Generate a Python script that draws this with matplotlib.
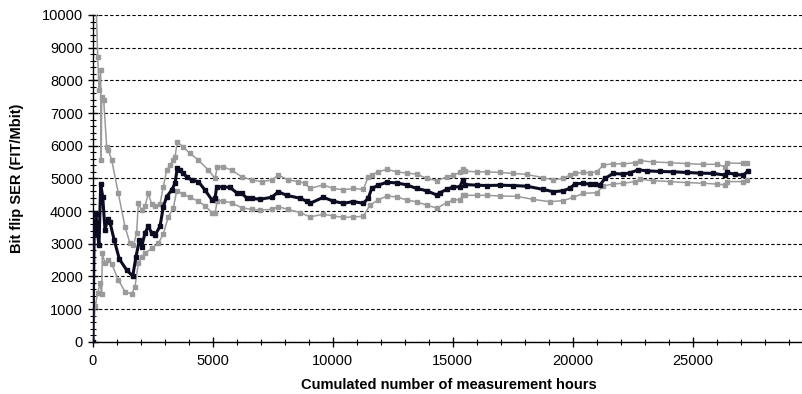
import matplotlib
matplotlib.use("Agg")
import matplotlib.pyplot as plt
from matplotlib.ticker import MultipleLocator

# cumulated hours vs bit flip SER (FIT/Mbit)
hours_mid = [10, 60, 140, 200, 263, 333, 417, 513, 620, 720, 900, 1110, 1417, 1667, 1804,
             1944, 2040, 2180, 2318, 2458, 2596, 2804, 2943, 3083, 3290, 3430, 3527, 3638,
             3777, 3917, 4125, 4402, 4680, 4958, 5096, 5166, 5443, 5720, 6000, 6210, 6417,
             6625, 6970, 7460, 7736, 8083, 8640, 8917, 9055, 9610, 10026, 10443, 10860,
             11276, 11485, 11625, 11900, 12250, 12668, 13085, 13500, 13918, 14335, 14472,
             14750, 15027, 15305, 15418, 15514, 16001, 16418, 16972, 17526, 18085, 18776,
             19193, 19610, 19890, 20098, 20443, 20722, 20930, 21140, 21347, 21694, 22110,
             22389, 22735, 23084, 23638, 24193, 24752, 25308, 25862, 26348, 26418, 26765,
             27110, 27318]
ser_mid = [0, 3300, 3900, 3300, 2960, 4820, 4440, 3420, 3750, 3650, 3100, 2530, 2190, 2010, 2600,
           3110, 2900, 3330, 3530, 3330, 3260, 3530, 4130, 4440, 4640, 4850, 5330, 5250,
           5150, 5050, 4950, 4900, 4640, 4350, 4390, 4740, 4740, 4720, 4560, 4540, 4400,
           4390, 4360, 4420, 4590, 4480, 4390, 4300, 4235, 4420, 4300, 4235, 4290,
           4235, 4400, 4690, 4790, 4880, 4860, 4800, 4690, 4620, 4490, 4560,
           4660, 4740, 4740, 4950, 4810, 4790, 4780, 4790, 4780, 4760, 4660,
           4590, 4620, 4700, 4830, 4850, 4820, 4830, 4800, 5000, 5150, 5130,
           5170, 5260, 5230, 5210, 5200, 5180, 5160, 5150, 5100, 5180, 5120,
           5100, 5230]

hours_up = [60, 137, 208, 263, 333, 355, 375, 458, 583, 650, 792, 1068, 1346, 1555, 1700,
            1832, 1900, 2040, 2180, 2320, 2458, 2600, 2800, 2943, 3083, 3220, 3360, 3430,
            3527, 3777, 4055, 4402, 4820, 5096, 5193, 5443, 5790, 6210, 6625, 7042, 7459,
            7736, 8152, 8568, 8846, 9055, 9610, 10026, 10443, 10860, 11276, 11485, 11625,
            11900, 12250, 12668, 13085, 13500, 13918, 14335, 14750, 15027, 15305, 15418,
            15514, 16001, 16418, 16972, 17526, 18085, 18776, 19193, 19610, 19890, 20098,
            20443, 20722, 21000, 21277, 21694, 22110, 22597, 22806, 23360, 24055, 24752,
            25443, 26000, 26348, 26418, 27110, 27277]
ser_up = [10500, 10500, 8720, 7700, 8310, 5560, 7500, 7400, 5960, 5860, 5560, 4540, 3520, 3010, 2960,
          3330, 4235, 4030, 4150, 4540, 4200, 4150, 4200, 4740, 5250, 5400, 5560, 5660,
          6120, 5950, 5765, 5560, 5254, 5000, 5355, 5350, 5250, 5050, 4950, 4900, 4950,
          5100, 4950, 4900, 4850, 4690, 4800, 4690, 4650, 4690, 4660, 5050, 5100,
          5200, 5275, 5200, 5160, 5130, 5000, 4930, 5040, 5100, 5180, 5275,
          5220, 5200, 5200, 5180, 5150, 5120, 5020, 4950, 5000, 5100, 5150,
          5180, 5170, 5200, 5405, 5450, 5440, 5480, 5540, 5500, 5480, 5450,
          5430, 5430, 5355, 5470, 5460, 5480]

hours_lo = [20, 100, 208, 305, 375, 400, 513, 650, 792, 1068, 1346, 1625, 1763, 1900, 2040,
            2180, 2458, 2735, 2943, 3152, 3360, 3500, 3777, 4055, 4402, 4700, 4958, 5096,
            5193, 5443, 5790, 6210, 6625, 6970, 7460, 7736, 8152, 8640, 9055, 9610, 10026,
            10443, 10860, 11276, 11555, 11900, 12250, 12668, 13085, 13500, 13918, 14335,
            14750, 15027, 15305, 15418, 15514, 16001, 16418, 16972, 17667, 18360, 19055,
            19610, 20027, 20443, 21000, 21277, 21694, 22110, 22597, 22806, 23360, 24055,
            24752, 25443, 26000, 26348, 26418, 27110, 27277]
ser_lo = [0, 1100, 1480, 1790, 1450, 2700, 2400, 2500, 2380, 1890, 1530, 1460, 1680, 2400, 2600,
          2700, 2860, 3010, 3300, 3825, 4090, 4620, 4520, 4420, 4300, 4150, 3950, 3940,
          4320, 4300, 4250, 4100, 4050, 4030, 4050, 4130, 4050, 3950, 3820, 3900, 3850,
          3805, 3820, 3840, 4180, 4340, 4460, 4430, 4340, 4280, 4180, 4090,
          4250, 4340, 4350, 4480, 4480, 4480, 4480, 4460, 4450, 4355, 4285,
          4320, 4420, 4540, 4560, 4765, 4830, 4850, 4900, 4970, 4930, 4900,
          4870, 4850, 4825, 4800, 4900, 4900, 4940]

plt.rcParams['font.family'] = ['Liberation Sans', 'DejaVu Sans']

fig = plt.figure(figsize=(8.03, 3.94), dpi=100)
# plot area runs off the right edge of the picture, like the reference
ax = fig.add_axes([92.7 / 803, 52.3 / 394, 710.3 / 803, 326.7 / 394])

gray = '#9a9a9a'
ax.plot(hours_up, ser_up, color=gray, lw=1.1, marker='s', ms=2.8, mec=gray, mfc=gray, zorder=3)
ax.plot(hours_lo, ser_lo, color=gray, lw=1.1, marker='s', ms=2.8, mec=gray, mfc=gray, zorder=3)
ax.plot(hours_mid, ser_mid, color='#0b0b22', lw=2.2, marker='s', ms=3.0, zorder=4)

ax.set_xlim(0, 710.3 / 120 * 5000)
ax.set_ylim(0, 10000)
ax.xaxis.set_major_locator(MultipleLocator(5000))
ax.xaxis.set_minor_locator(MultipleLocator(1000))
ax.yaxis.set_major_locator(MultipleLocator(1000))
ax.yaxis.set_minor_locator(MultipleLocator(200))

ax.grid(axis='y', which='major', color='black', lw=0.8, linestyle=(0, (3, 2)))
ax.set_axisbelow(True)

ax.spines['top'].set_visible(False)
ax.spines['right'].set_visible(False)
ax.spines['left'].set_linewidth(1.0)
ax.spines['bottom'].set_linewidth(1.0)

ax.tick_params(axis='both', which='major', direction='inout', length=7, width=1, labelsize=10.5)
ax.tick_params(axis='both', which='minor', direction='inout', length=4, width=0.8)
ax.tick_params(axis='x', which='major', pad=5)

ax.set_xlabel('Cumulated number of measurement hours', fontsize=10.5, fontweight='bold')
ax.set_ylabel('Bit flip SER (FIT/Mbit)', fontsize=10.5, fontweight='bold')
ax.xaxis.set_label_coords((449 - 92.7) / 710.3, -0.11)
ax.yaxis.set_label_coords(-0.097, 0.5)

fig.savefig('out.png', dpi=100)
